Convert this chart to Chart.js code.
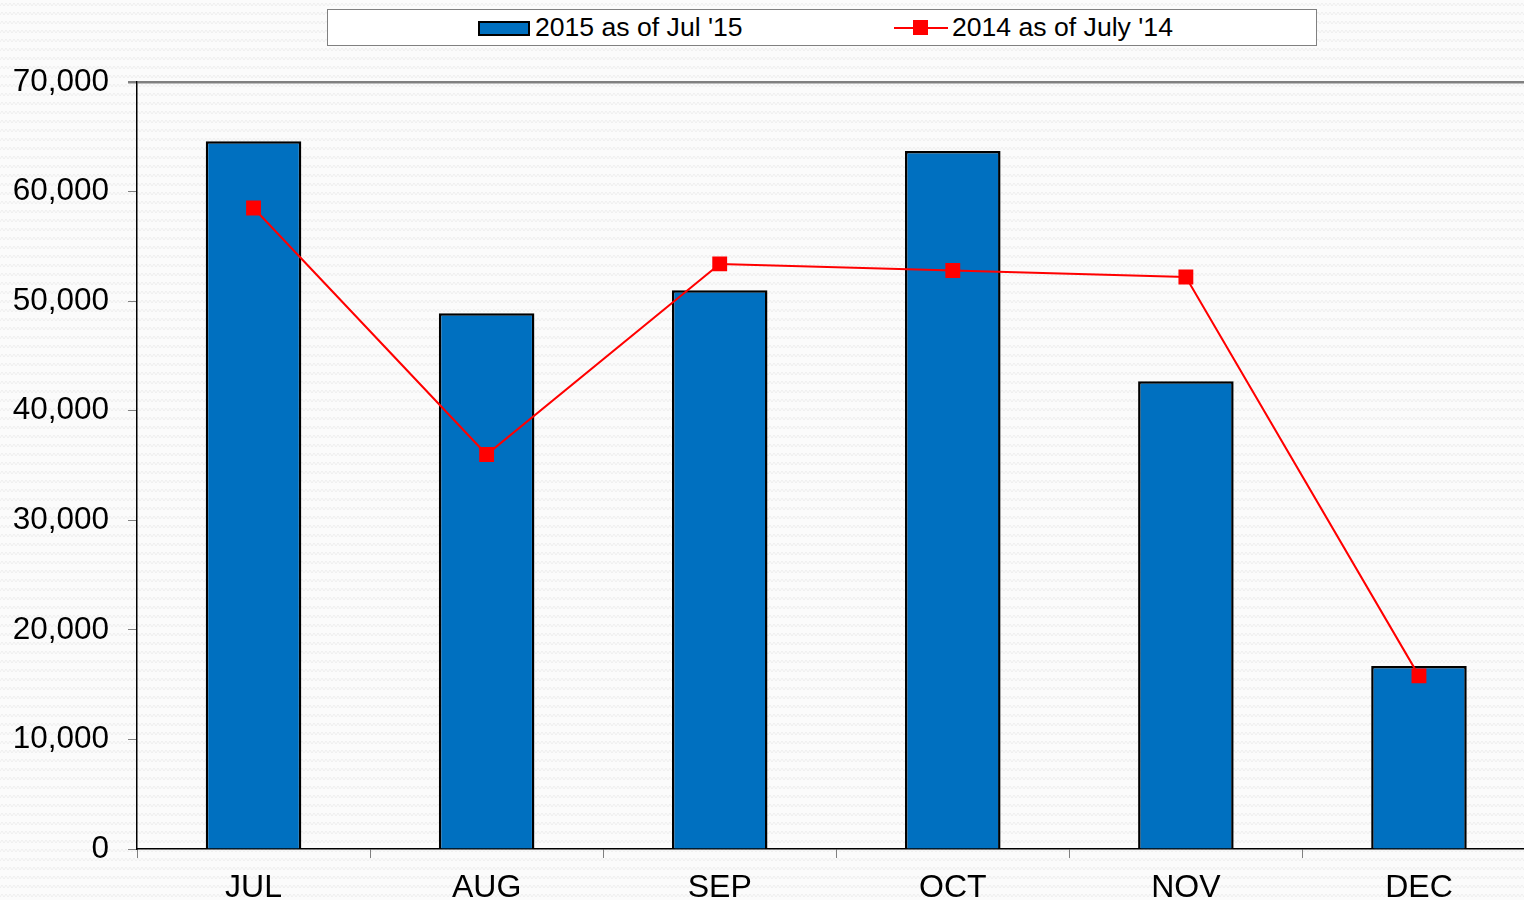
<!DOCTYPE html>
<html>
<head>
<meta charset="utf-8">
<script src="https://cdn.jsdelivr.net/npm/chart.js@4/dist/chart.umd.min.js"></script>
<style>
  body {
    margin: 0;
    overflow: hidden;
    font-family: "Liberation Sans", Arial, sans-serif;
    background-color: #fbfbfb;
    background-image: url("data:image/svg+xml;utf8,<svg xmlns='http://www.w3.org/2000/svg' width='8' height='9'><polyline points='0,6 2,3 4,6 6,3 8,6' fill='none' stroke='%23efefef' stroke-width='1'/></svg>");
  }
  #wrap { position: relative; width: 1524px; height: 900px; overflow: hidden; }
  #chartBox { position: absolute; left: 0; top: 0; width: 1546px; height: 900px; }
  #legend {
    position: absolute; left: 327px; top: 9px; width: 988px; height: 35px;
    background: #fff; border: 1px solid #808080; z-index: 2;
  }
  .item { position: absolute; top: 0; height: 35px; line-height: 35px; font-size: 26.6px; color: #000; white-space: nowrap; }
  .sw-bar { position: absolute; top: 11px; width: 48px; height: 11px; background: #0070c0; border: 2px solid #000; }
  .sw-line { position: absolute; top: 17px; width: 54px; height: 2px; background: #ff0000; }
  .sw-pt { position: absolute; top: 10px; width: 15px; height: 15px; background: #ff0000; }
</style>
</head>
<body>
<div id="wrap">
  <div id="legend">
    <div class="sw-bar" style="left:150px"></div>
    <div class="item" style="left:207px">2015 as of Jul '15</div>
    <div class="sw-line" style="left:566px"></div>
    <div class="sw-pt" style="left:585px"></div>
    <div class="item" style="left:624px">2014 as of July '14</div>
  </div>
  <div id="chartBox"><canvas id="chart" width="1546" height="900"></canvas></div>
</div>
<script>
let labels = ['JUL', 'AUG', 'SEP', 'OCT', 'NOV', 'DEC'];
let values2015 = [64600, 48900, 51000, 63700, 42700, 16700];
let values2014 = [58500, 36000, 53400, 52800, 52200, 15800];
let yTicks = [0, 10000, 20000, 30000, 40000, 50000, 60000, 70000];

let ctx = document.getElementById('chart').getContext('2d');
let chart = new Chart(ctx, {
    type: 'bar',
    data: {
        labels: labels,
        datasets: [{
            type: 'line',
            label: "2014 as of July '14",
            data: values2014,
            borderColor: '#ff0000',
            backgroundColor: '#ff0000',
            borderWidth: 2,
            pointStyle: 'rect',
            pointRadius: 10.5,
            pointBorderWidth: 0,
            tension: 0,
            order: 0
        }, {
            label: "2015 as of Jul '15",
            data: values2015,
            backgroundColor: '#0070c0',
            borderColor: '#000000',
            borderWidth: 2.5,
            barPercentage: 0.41,
            categoryPercentage: 1,
            order: 1
        }]
    },
    options: {
        responsive: false,
        animation: false,
        layout: { padding: { top: 82, right: 0, left: 0, bottom: 0 } },
        plugins: {
            legend: { display: false },
            tooltip: { enabled: false }
        },
        scales: {
            x: {
                offset: true,
                grid: {
                    offset: true,
                    drawOnChartArea: false,
                    tickLength: 9,
                    tickColor: '#808080'
                },
                border: { color: '#000000', width: 1.5 },
                ticks: {
                    color: '#000',
                    padding: 11,
                    font: { family: '"Liberation Sans", Arial', size: 32 }
                },
                afterFit: (scale) => { scale.height = 51; }
            },
            y: {
                min: 0,
                max: 70000,
                afterBuildTicks: (scale) => { scale.ticks = yTicks.map(v => ({ value: v })); },
                grid: {
                    drawOnChartArea: true,
                    tickLength: 9,
                    tickColor: '#808080',
                    color: (c) => c.tick && c.tick.value === 70000 ? '#808080' : 'transparent',
                    lineWidth: (c) => c.tick && c.tick.value === 70000 ? 2.5 : 1
                },
                border: { color: '#000000', width: 1.5 },
                ticks: {
                    color: '#000',
                    padding: 19,
                    font: { family: '"Liberation Sans", Arial', size: 31.5 },
                    callback: (v) => v.toLocaleString('en-US')
                },
                afterFit: (scale) => { scale.width = 137; }
            }
        }
    }
});
</script>
</body>
</html>
